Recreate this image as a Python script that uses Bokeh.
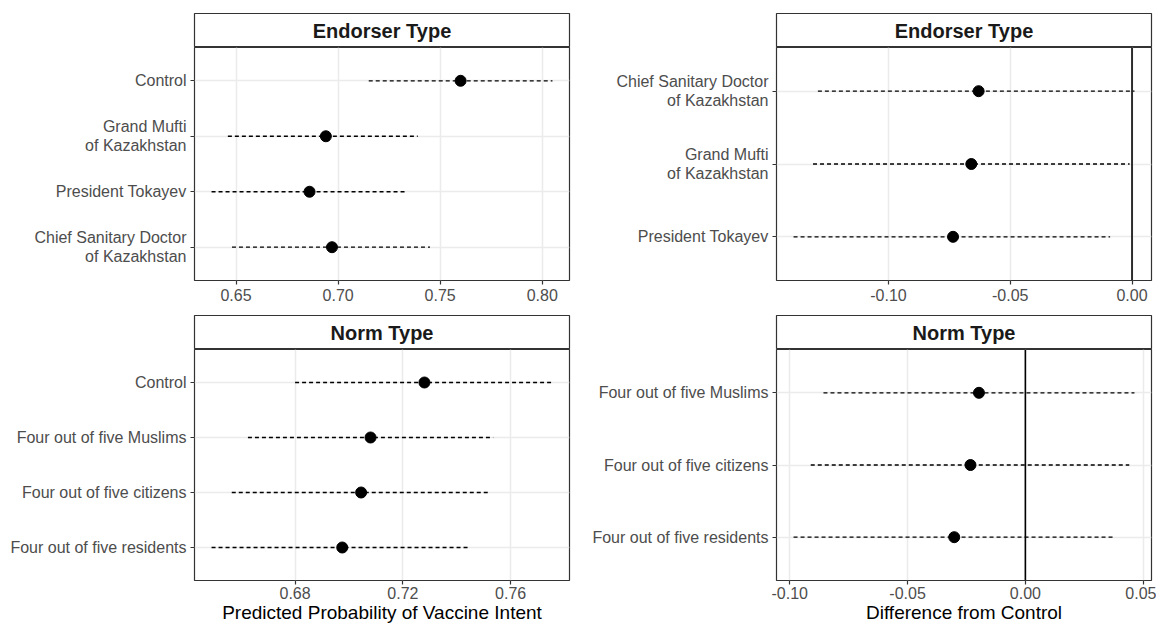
from bokeh.plotting import figure
from bokeh.layouts import column, row
from bokeh.models import FactorRange, Range1d, FixedTicker, Span, ColumnDataSource, PrintfTickFormatter
from bokeh.embed import file_html
from bokeh.resources import INLINE
from bokeh.core.properties import value

FONT = "Liberation Sans"

# ---------------- data ----------------
endorser_levels = ["Control", "Grand Mufti\nof Kazakhstan", "President Tokayev",
                   "Chief Sanitary Doctor\nof Kazakhstan"]
endorser_est = [0.760, 0.694, 0.686, 0.697]
endorser_lo = [0.715, 0.646, 0.638, 0.648]
endorser_hi = [0.805, 0.739, 0.734, 0.745]

endorser_diff_levels = ["Chief Sanitary Doctor\nof Kazakhstan", "Grand Mufti\nof Kazakhstan",
                        "President Tokayev"]
endorser_diff = [-0.063, -0.066, -0.0735]
endorser_diff_lo = [-0.129, -0.131, -0.139]
endorser_diff_hi = [0.001, -0.001, -0.009]

norm_levels = ["Control", "Four out of five Muslims", "Four out of five citizens",
               "Four out of five residents"]
norm_est = [0.728, 0.708, 0.7045, 0.6975]
norm_lo = [0.680, 0.6625, 0.6565, 0.649]
norm_hi = [0.7755, 0.7535, 0.752, 0.7445]

norm_diff_levels = ["Four out of five Muslims", "Four out of five citizens",
                    "Four out of five residents"]
norm_diff = [-0.0197, -0.0233, -0.0302]
norm_diff_lo = [-0.0857, -0.0911, -0.0984]
norm_diff_hi = [0.0463, 0.0441, 0.0381]

ticks_tl = [0.65, 0.70, 0.75, 0.80]
ticks_tr = [-0.10, -0.05, 0.00]
ticks_bl = [0.68, 0.72, 0.76]
ticks_br = [-0.10, -0.05, 0.00, 0.05]

strip_titles = ["Endorser Type", "Norm Type"]
xlabel_left = "Predicted Probability of Vaccine Intent"
xlabel_right = "Difference from Control"

# ---------------- helpers ----------------
FRAME_W = 375


def expanded(lo, hi, extra=()):
    a = min(list(lo) + list(extra))
    b = max(list(hi) + list(extra))
    pad = (b - a) * 0.05
    return a - pad, b + pad


def strip(title, left, right, top):
    p = figure(frame_width=FRAME_W, frame_height=34, x_range=(0, 1), y_range=(0, 1),
               toolbar_location=None, output_backend="svg",
               x_axis_location=None, y_axis_location=None,
               min_border_left=left, min_border_right=right,
               min_border_top=top, min_border_bottom=0)
    p.grid.visible = False
    p.outline_line_color = "#333333"
    p.outline_line_width = 1.2
    p.text(x=[0.5], y=[0.5], text=[title], text_align="center", text_baseline="middle",
           text_font=value(FONT), text_font_style="bold", text_font_size="20px",
           text_color="#1A1A1A")
    return p


def panel(levels, est, lo, hi, ticks, left, right, frame_h, bottom, xlabel=None, vline=False):
    factors = list(reversed(levels))
    xr = expanded(lo, hi, [0.0] if vline else [])
    p = figure(frame_width=FRAME_W, frame_height=frame_h,
               y_range=FactorRange(factors=factors, range_padding=0.1,
                                   range_padding_units="absolute"),
               x_range=Range1d(*xr),
               toolbar_location=None, output_backend="svg",
               min_border_left=left, min_border_right=right,
               min_border_top=0, min_border_bottom=bottom)
    p.outline_line_color = "#333333"
    p.outline_line_width = 1.2
    p.xgrid.grid_line_color = "#EBEBEB"
    p.ygrid.grid_line_color = "#EBEBEB"
    p.xgrid.grid_line_width = 1.5
    p.ygrid.grid_line_width = 1.5
    p.xaxis.ticker = FixedTicker(ticks=ticks, minor_ticks=[])
    p.xaxis.formatter = PrintfTickFormatter(format="%.2f")
    for ax in (p.xaxis[0], p.yaxis[0]):
        ax.axis_line_color = None
        ax.major_tick_line_color = "#333333"
        ax.major_tick_line_width = 1.2
        ax.major_tick_out = 4
        ax.major_tick_in = 0
        ax.minor_tick_line_color = None
        ax.major_label_text_font = FONT
        ax.major_label_text_font_size = "16px"
        ax.major_label_text_color = "#4D4D4D"
        ax.major_label_standoff = 4
    p.yaxis.major_label_text_line_height = 1.1
    if xlabel:
        p.xaxis.major_label_standoff = 2
        p.xaxis.axis_label = xlabel
        p.xaxis.axis_label_text_font = FONT
        p.xaxis.axis_label_text_font_size = "19px"
        p.xaxis.axis_label_text_font_style = "normal"
        p.xaxis.axis_label_text_color = "black"
        p.xaxis.axis_label_standoff = 0
    if vline:
        p.add_layout(Span(location=0, dimension="height", line_color="black", line_width=1.6))
    src = ColumnDataSource(dict(cat=levels, est=est, lo=lo, hi=hi))
    p.segment(x0="lo", y0="cat", x1="hi", y1="cat", source=src, line_color="black",
              line_width=1.3, line_dash="4 3")
    p.scatter(x="est", y="cat", source=src, size=11, color="black")
    return p


LL, LR = 194, 11
RL, RR = 196, 5

tl = column(strip(strip_titles[0], LL, LR, 13),
            panel(endorser_levels, endorser_est, endorser_lo, endorser_hi, ticks_tl,
                  LL, LR, 233, 32), spacing=0)
tr = column(strip(strip_titles[0], RL, RR, 13),
            panel(endorser_diff_levels, endorser_diff, endorser_diff_lo, endorser_diff_hi,
                  ticks_tr, RL, RR, 233, 32, vline=True), spacing=0)
bl = column(strip(strip_titles[1], LL, LR, 3),
            panel(norm_levels, norm_est, norm_lo, norm_hi, ticks_bl,
                  LL, LR, 231, 47, xlabel=xlabel_left), spacing=0)
br = column(strip(strip_titles[1], RL, RR, 3),
            panel(norm_diff_levels, norm_diff, norm_diff_lo, norm_diff_hi, ticks_br,
                  RL, RR, 231, 47, xlabel=xlabel_right, vline=True), spacing=0)

layout = column(row(tl, tr, spacing=0), row(bl, br, spacing=0), spacing=0)

open("out.html", "w").write(file_html(layout, INLINE))
